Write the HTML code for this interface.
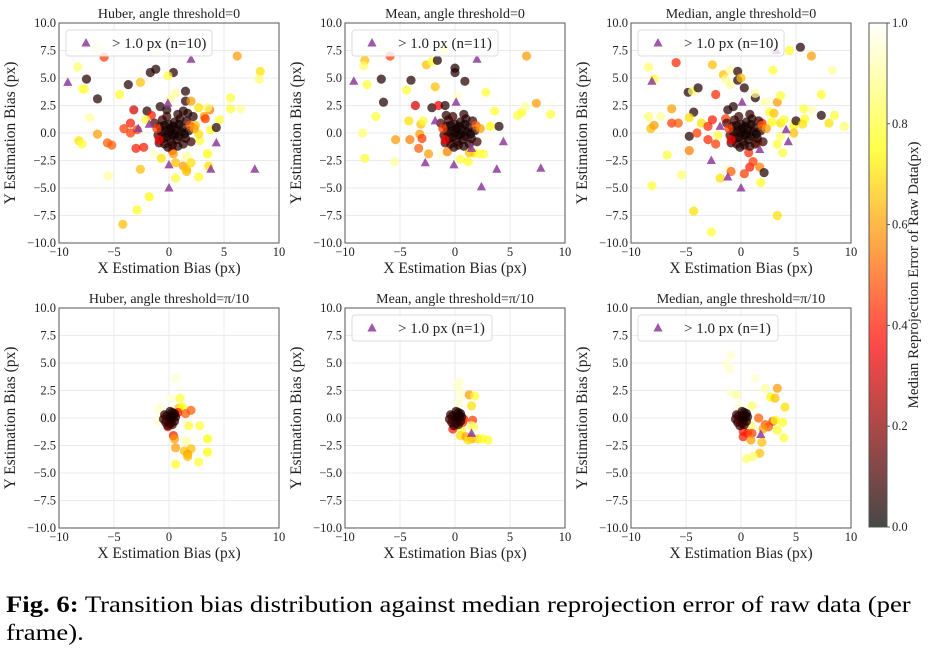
<!DOCTYPE html>
<html><head><meta charset="utf-8">
<style>
html,body{margin:0;padding:0;background:#fff;}
body{width:934px;height:652px;overflow:hidden;position:relative;font-family:"Liberation Serif",serif;}
#cap{position:absolute;left:6px;top:591px;font-size:23px;line-height:28px;color:#000;white-space:nowrap;transform:scaleX(1.16);transform-origin:0 0;}
</style></head>
<body>
<svg id="fig" width="934" height="580" style="position:absolute;left:0;top:0" font-family="Liberation Serif, serif"></svg>
<div id="cap"><b>Fig. 6:</b> Transition bias distribution against median reprojection error of raw data (per<br>frame).</div>
<script>
// ---- data: [x, y, medianError] ----
const clusterTop = [[0,0,0.05],[0.3,-0.2,0.03],[-0.3,0.2,0.05],[0.6,0.3,0.04],[0.9,-0.3,0.05],[-0.5,-0.5,0.06],[0.2,-0.8,0.05],[1.2,0.5,0.05],[-0.8,0.6,0.07],[0.5,1,0.05],[1.5,-0.5,0.06],[-1,-0.2,0.08],[0,0.8,0.05],[1,1.3,0.06],[0.3,-1.1,0.07],[-0.6,1.2,0.08],[1.8,0.2,0.07],[0.7,-0.6,0.04],[-0.2,-0.4,0.03],[1.3,-1,0.06],[-1.3,0.9,0.1],[0.1,0.4,0.02],[-0.4,-1,0.06],[1.6,1.1,0.07],[0.8,1.7,0.06],[2,-0.8,0.08],[-0.9,-0.9,0.1],[1.1,0.1,0.03],[0.4,0.6,0.03],[-0.2,1.5,0.08],[-0.7,0.1,0.04],[0.9,0.8,0.03],[-0.1,-1.3,0.05],[1.4,-0.1,0.02],[0.5,-0.1,0.02],[-0.4,0.7,0.03],[0.8,-1.2,0.05],[1.9,0.7,0.5],[2.3,0.4,0.6],[-1.1,0.4,0.45],[-0.9,-0.6,0.35]];
const clusterBot = [[0,0,0.05],[0.2,-0.2,0.03],[-0.2,0.2,0.05],[0.4,0.2,0.04],[0.5,-0.3,0.05],[-0.3,-0.4,0.06],[0.1,-0.5,0.05],[0.3,0.5,0.05],[-0.4,0.3,0.07],[0.1,0.6,0.05],[0.6,0.1,0.06],[-0.1,-0.7,0.08],[0.3,-0.6,0.07],[-0.5,-0.1,0.08],[0.5,0.4,0.04],[0.2,0.1,0.03]];
const huber0 = [[-6.6,7.9,0.95],[-6.5,7.6,0.9],[-5.9,6.9,0.45],[-8.3,6.0,0.85],[-7.9,4.0,0.85],[-7.7,4.0,0.8],[-7.5,4.9,0.05],[-6.5,3.1,0.05],[-7.2,1.4,0.9],[-4.5,3.5,0.78],[-3.7,4.4,0.05],[-2.6,4.6,0.65],[-1.7,5.5,0.05],[-1.2,5.8,0.05],[0.4,5.5,0.05],[-1.0,7.5,0.92],[-0.1,5.2,0.8],[0.6,3.6,0.9],[1.5,3.8,0.05],[1.5,2.9,0.05],[2.0,2.9,0.6],[0.1,3.1,0.9],[-3.2,2.1,0.3],[-2.0,2.0,0.05],[-1.6,1.6,0.4],[-2.1,1.2,0.8],[-3.5,0.9,0.4],[-4.1,0.4,0.45],[-3.5,0.0,0.45],[-2.9,0.3,0.45],[-3.0,-1.4,0.4],[-2.3,-1.3,0.4],[-6.5,-0.1,0.6],[-8.2,-0.7,0.7],[-7.9,-1.0,0.8],[-5.6,-0.9,0.5],[-5.2,-1.1,0.5],[-1.4,-1.9,0.95],[-0.7,-2.3,0.7],[0.3,-1.6,0.4],[0.4,-1.9,0.6],[0.6,-2.7,0.65],[0.6,-4.1,0.8],[1.3,-3.0,0.6],[1.6,-3.3,0.65],[1.6,-3.5,0.65],[1.6,-2.1,0.9],[2.0,-2.7,0.7],[2.7,-4.0,0.78],[3.5,-1.9,0.75],[3.6,-3.0,0.7],[2.8,-0.7,0.8],[3.7,2.1,0.55],[3.5,2.3,0.85],[2.7,2.3,0.7],[3.2,1.5,0.6],[3.3,1.3,0.45],[3.8,0.3,0.78],[4.6,1.2,0.8],[4.3,0.5,0.05],[5.6,3.2,0.8],[5.6,2.2,0.8],[6.5,2.2,0.9],[6.2,7.0,0.6],[8.3,5.6,0.7],[8.2,4.9,0.85],[-2.6,-3.3,0.65],[-5.5,-3.9,0.9],[-1.8,-5.8,0.75],[-2.9,-7.0,0.78],[-4.2,-8.3,0.65],[2.7,-0.1,0.7],[2.4,0.7,0.65],[-0.8,2.4,0.05],[-0.2,2.1,0.05],[1.7,1.8,0.05],[2.2,1.5,0.05],[1.3,2.0,0.05]];
const huber0Tri = [[-9.2,4.6],[2.0,6.7],[-0.1,2.7],[-1.8,0.8],[-2.8,0.4],[4.3,-0.9],[0,-2.9],[3.8,-3.3],[7.8,-3.3],[0,-5.0]];
const mean0 = [[-8,7.8,0.97],[-6.6,7.9,0.95],[-6.5,7.6,0.93],[-5.9,7.0,0.45],[-8.2,6.6,0.65],[-8.3,6.1,0.85],[-8,4.4,0.8],[-6.7,4.9,0.05],[-4,4.8,0.05],[-6.5,2.8,0.05],[-7.2,1.5,0.8],[-8.4,0,0.85],[-8.2,-2.3,0.8],[-5.5,-2.6,0.9],[-5.4,-0.6,0.6],[-4.4,3.9,0.8],[-4.2,1.1,0.7],[-4.1,-0.6,0.55],[-3.3,-1.4,0.5],[-3.6,2.5,0.3],[-3.1,0.8,0.65],[-3.2,-0.1,0.6],[-3,-0.5,0.45],[-2.4,-1.9,0.6],[-2.9,1.1,0.8],[-2.1,2.3,0.05],[-2.6,6.2,0.65],[-2.1,6.5,0.8],[-1.6,6.6,0.05],[-1.8,4.2,0.65],[-1,7.6,0.8],[0,5.9,0.05],[0,5.5,0.05],[0.9,4.7,0.05],[0.2,3.4,0.95],[2.8,3.7,0.8],[3.6,2,0.8],[4,0.6,0.05],[3.2,0.6,0.75],[5.7,1.6,0.8],[6.1,1.9,0.8],[6.4,2.4,0.9],[7.4,2.7,0.6],[8.7,1.7,0.8],[6.5,7.0,0.6],[0.5,-2.4,0.8],[1.2,-2.6,0.78],[2.6,-1.9,0.8],[1.7,-1.8,0.7],[-1.5,2.5,0.35],[-0.9,2.5,0.05],[-0.8,1.6,0.05],[-1.2,-1.9,0.95],[-0.7,-1.7,0.55],[2.2,-1.9,0.8],[1.3,-1.8,0.65]];
const mean0Tri = [[-9.2,4.7],[2,6.7],[0.1,2.8],[-1.8,1.1],[4.4,-0.8],[-2.7,-2.7],[-0.1,-2.9],[1.5,-1.4],[3.8,-3.3],[7.8,-3.2],[2.4,-4.9]];
const median0 = [[-8.4,6,0.85],[-7.9,4.9,0.8],[-8.4,1.5,0.85],[-8.2,0.4,0.65],[-7.9,0.7,0.6],[-7.3,1.5,0.9],[-8.1,-4.8,0.8],[-6.7,-2,0.8],[-5.4,-3.8,0.85],[-6.3,2.2,0.6],[-6.3,0.9,0.45],[-5.7,0.9,0.5],[-5.9,6.4,0.42],[-5.8,7.6,0.93],[-7.4,7.9,0.93],[-4.8,3.7,0.05],[-4.4,3.8,0.85],[-3.9,4.1,0.05],[-4.3,1.9,0.05],[-4.7,1.4,0.7],[-4.7,-0.3,0.05],[-4.7,-1.6,0.55],[-4,0,0.45],[-3.6,0.9,0.7],[-3,0.6,0.42],[-3,-0.6,0.42],[-2.3,3.5,0.42],[-2.6,6.2,0.65],[-2.6,1.2,0.4],[-2.3,-1,0.45],[-2.1,-0.2,0.8],[-1.9,-4.1,0.7],[-1.6,5.3,0.65],[-1.4,4.9,0.9],[-1,5.7,0.9],[-1,4.4,0.9],[-0.3,5.6,0.05],[-0.3,4.8,0.05],[0,5,0.65],[0.3,4.1,0.05],[-1.3,-3.3,0.95],[-0.9,-3.5,0.5],[0.3,-3.7,0.45],[0.8,-3.1,0.4],[1.1,-2.6,0.45],[1.7,-3.1,0.55],[2.1,-3.6,0.05],[1.8,-4.5,0.78],[1.3,3.2,0.05],[1.3,3.6,0.9],[2.2,2.8,0.9],[2.5,2.9,0.95],[2.9,5.7,0.8],[3.3,2.8,0.6],[3.6,3.4,0.8],[2.6,1.9,0.78],[3,1.8,0.65],[2.8,1,0.75],[3.6,0.9,0.7],[3.9,1.2,0.78],[3.6,-0.3,0.85],[3.8,-1.8,0.8],[3.3,-1,0.8],[4.8,0.7,0.75],[5,1.1,0.05],[5.7,2.2,0.8],[5.8,1.3,0.78],[6.4,2.1,0.92],[5.6,0.8,0.7],[4.8,0,0.65],[7.3,1.6,0.05],[7.3,3.5,0.78],[8,0.9,0.7],[8.5,1.6,0.8],[9.4,0.6,0.85],[8.3,5.7,0.9],[6.4,7,0.6],[5.4,7.8,0.05],[4.4,7.5,0.78],[3.3,-7.5,0.7],[-2.7,-9,0.8],[-4.3,-7.1,0.7],[-1.2,2.1,0.05],[-0.7,2.4,0.05],[1.9,0.9,0.4],[1.5,-0.9,0.5],[-1.4,1.3,0.45],[0.7,-1.8,0.42]];
const median0Tri = [[-8.1,4.7],[3.2,7.5],[0.1,2.8],[-1.9,0.6],[4.1,0.3],[4.3,-0.8],[1.7,-1.5],[-2.7,-2.5],[-1.2,-4],[0,-5]];
const huberPi = [[0.6,3.6,0.95],[0.2,1.8,0.95],[1,1.8,0.8],[-0.8,1,0.95],[-0.9,0.7,0.95],[0.9,0.9,0.65],[1.2,1,0.75],[1.5,0.4,0.5],[2,0.7,0.5],[-1,-0.3,0.95],[1.8,-0.7,0.8],[2.8,-0.7,0.8],[0.4,-1.6,0.4],[0.5,-1.9,0.6],[0.6,-2.7,0.6],[1.6,-2.1,0.9],[2,-2.8,0.65],[1.4,-3,0.65],[1.7,-3.3,0.6],[1.7,-3.5,0.65],[3.5,-1.9,0.75],[3.5,-3.1,0.75],[2.7,-4,0.8],[0.6,-4.2,0.78],[-0.1,-0.8,0.4],[0.8,0.5,0.4]];
const huberPiTri = [];
const meanPi = [[0.4,3.3,0.95],[0.2,2.9,0.95],[0.4,2.5,0.95],[0.5,1.9,0.95],[0.3,1.3,0.95],[1.3,2.1,0.6],[1.8,2,0.8],[1.5,1.1,0.7],[1.6,-0.2,0.45],[1.5,-0.7,0.85],[1.7,-0.8,0.85],[0.6,-1.1,0.8],[0.5,-1.6,0.7],[1,-1.7,0.6],[1.5,-1.9,0.6],[2.1,-1.9,0.7],[2.5,-1.9,0.78],[3,-2,0.78],[1.2,-2,0.7],[0.8,-0.1,0.4],[-0.2,-1,0.4],[0.7,-0.4,0.45]];
const meanPiTri = [[1.5,-1.4]];
const medianPi = [[-0.9,5.7,0.95],[-1.3,4.9,0.95],[-1,4.4,0.95],[1.3,3.6,0.95],[2.2,2.7,0.9],[3.3,2.7,0.6],[2.7,1.9,0.75],[3.1,1.8,0.65],[4,1,0.7],[-0.9,2.3,0.95],[-0.4,2.1,0.9],[-0.2,1.1,0.95],[1,1.1,0.85],[1.6,0,0.5],[2.2,-0.6,0.5],[2.5,-0.8,0.5],[2,-1,0.6],[2.9,-0.3,0.45],[3.1,-0.2,0.75],[3.8,-0.4,0.78],[3.3,-1.1,0.78],[3.9,-1.8,0.8],[0.9,-0.7,0.85],[1,-1.4,0.45],[0.6,-1.4,0.45],[0.2,-1.7,0.4],[0.9,-2,0.6],[1.9,-2.2,0.65],[1.7,-3.2,0.65],[1.1,-3.5,0.85],[0.5,-3.7,0.85],[0.2,-1.2,0.4]];
const medianPiTri = [[1.8,-1.5]];
const titles = ["Huber, angle threshold=0","Mean, angle threshold=0","Median, angle threshold=0","Huber, angle threshold=\u03c0/10","Mean, angle threshold=\u03c0/10","Median, angle threshold=\u03c0/10"];
const legendLabels = ["> 1.0 px (n=10)","> 1.0 px (n=11)","> 1.0 px (n=10)",null,"> 1.0 px (n=1)","> 1.0 px (n=1)"];
const xTicks = [-10,-5,0,5,10];
const yTicks = [-10,-7.5,-5,-2.5,0,2.5,5,7.5,10];
const cbTicks = [0,0.2,0.4,0.6,0.8,1.0];

const panels = [
 {pts:huber0.concat(clusterTop),tri:huber0Tri,l:59,t:23},
 {pts:mean0.concat(clusterTop),tri:mean0Tri,l:345,t:23},
 {pts:median0.concat(clusterTop),tri:median0Tri,l:631,t:23},
 {pts:huberPi.concat(clusterBot),tri:huberPiTri,l:59,t:308},
 {pts:meanPi.concat(clusterBot),tri:meanPiTri,l:345,t:308},
 {pts:medianPi.concat(clusterBot),tri:medianPiTri,l:631,t:308}
];
const W=220,H=220;
const NS="http://www.w3.org/2000/svg";
const svg=document.getElementById('fig');
function mk(tag,attrs,parent){const e=document.createElementNS(NS,tag);for(const k in attrs)e.setAttribute(k,attrs[k]);(parent||svg).appendChild(e);return e;}
function hot(c){const cl=v=>Math.max(0,Math.min(1,v));const r=cl(c/0.365),g=cl((c-0.365)/0.381),b=cl((c-0.746)/0.254);return `rgb(${Math.round(r*255)},${Math.round(g*255)},${Math.round(b*255)})`;}
function fmt(v){const s=v.toFixed(1);return v<0?'\u2212'+s.slice(1):s;}

panels.forEach((p,i)=>{
  const sx=v=>p.l+(v+10)/20*W, sy=v=>p.t+(10-v)/20*H;
  const g=mk('g',{});
  
  
  xTicks.forEach(v=>{const l=mk('line',{x1:sx(v),x2:sx(v),y1:p.t,y2:p.t+H,stroke:'#ebebeb','stroke-width':1},g);
    const tx=mk('text',{x:sx(v),y:p.t+H+13,'font-size':12.5,'text-anchor':'middle',fill:'#222'},g);tx.textContent=v<0?'\u2212'+(-v):String(v);});
  yTicks.forEach(v=>{const l=mk('line',{x1:p.l,x2:p.l+W,y1:sy(v),y2:sy(v),stroke:'#ebebeb','stroke-width':1},g);
    const tx=mk('text',{x:p.l-3,y:sy(v)+4,'font-size':12.5,'text-anchor':'end',fill:'#222'},g);tx.textContent=fmt(v);});
  p.pts.forEach(d=>{const c=mk('circle',{cx:sx(d[0]),cy:sy(d[1]),r:4.6,fill:hot(d[2]),'fill-opacity':0.72},g);});
  p.tri.forEach(d=>{const x=sx(d[0]),y=sy(d[1]);const t=mk('polygon',{points:`${x},${y-5} ${x-4.6},${y+3.5} ${x+4.6},${y+3.5}`,fill:'#8e3a9a','fill-opacity':0.85},g);});
  const fr=mk('rect',{x:p.l,y:p.t,width:W,height:H,fill:'none',stroke:'#555','stroke-width':1},g);
  const ti=mk('text',{x:p.l+W/2,y:p.t-5,'font-size':14,'text-anchor':'middle',fill:'#222'},g);ti.textContent=titles[i];
  const xl=mk('text',{x:p.l+W/2,y:p.t+H+30,'font-size':15.5,'text-anchor':'middle',fill:'#222'},g);xl.textContent='X Estimation Bias (px)';
  const yx=p.l-44,yy=p.t+H/2;
  const yl=mk('text',{x:yx,y:yy,'font-size':15.5,'text-anchor':'middle',fill:'#222',transform:`rotate(-90 ${yx} ${yy})`},g);yl.textContent='Y Estimation Bias (px)';
  if(legendLabels[i]){
    const lg=mk('g',{},g);
    const lw=legendLabels[i].length>14?146:140;
    mk('rect',{x:p.l+7,y:p.t+7,width:lw,height:26,rx:3,fill:'#fff','fill-opacity':0.8,stroke:'#ddd'},lg);
    const x=p.l+27,y=p.t+20;
    mk('polygon',{points:`${x},${y-5} ${x-4.6},${y+3.5} ${x+4.6},${y+3.5}`,fill:'#8e3a9a','fill-opacity':0.85},lg);
    const lt=mk('text',{x:p.l+53,y:p.t+25,'font-size':15,fill:'#222'},lg);lt.textContent=legendLabels[i];
  }
});
// colorbar
const cb=mk('g',{});
const defs=mk('defs',{});
const grad=mk('linearGradient',{id:'hotg',x1:0,y1:1,x2:0,y2:0},defs);
for(let k=0;k<=20;k++){mk('stop',{offset:k/20,'stop-color':hot(k/20),'stop-opacity':0.72},grad);}
const cbT=23,cbB=527,cbL=869,cbW=18;
mk('rect',{x:cbL,y:cbT,width:cbW,height:cbB-cbT,fill:'url(#hotg)',stroke:'#555'},cb);
cbTicks.forEach(v=>{const y=cbB-v*(cbB-cbT);mk('line',{x1:cbL+cbW,x2:cbL+cbW+3,y1:y,y2:y,stroke:'#555'},cb);const t=mk('text',{x:cbL+cbW+5,y:y+4,'font-size':12.5,fill:'#222'},cb);t.textContent=v.toFixed(1);});
const cl=mk('text',{x:918,y:275,'font-size':15,'text-anchor':'middle',fill:'#222',transform:'rotate(-90 918 275)'},cb);cl.textContent='Median Reprojection Error of Raw Data(px)';
</script>
</body></html>
